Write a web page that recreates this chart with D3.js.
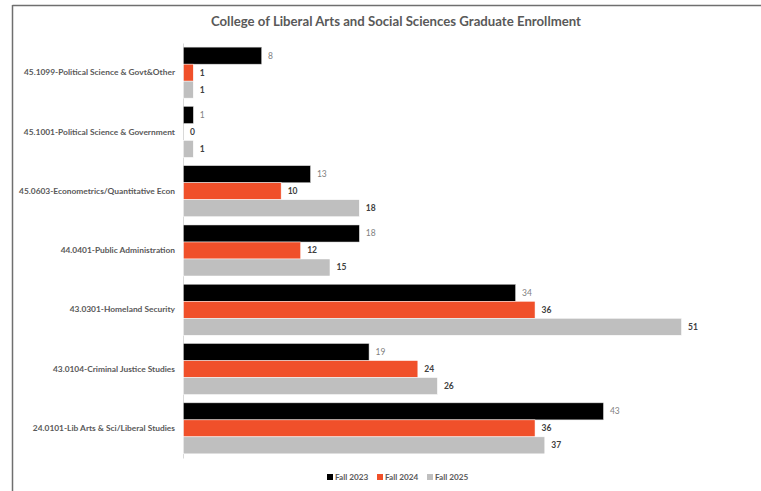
<!DOCTYPE html>
<html>
<head>
<meta charset="utf-8">
<script src="https://cdn.jsdelivr.net/npm/d3@7"></script>
<style>
  html, body { margin: 0; padding: 0; background: #fff; }
  svg { display: block; }
  text { font-family: Lato, "Open Sans", sans-serif; }
</style>
</head>
<body>
<div id="chart"></div>
<script>
const categories = [
  "45.1099-Political Science & Govt&Other",
  "45.1001-Political Science & Government",
  "45.0603-Econometrics/Quantitative Econ",
  "44.0401-Public Administration",
  "43.0301-Homeland Security",
  "43.0104-Criminal Justice Studies",
  "24.0101-Lib Arts & Sci/Liberal Studies"
];
const seriesNames = ["Fall 2023", "Fall 2024", "Fall 2025"];
const fall2023 = [8, 1, 13, 18, 34, 19, 43];
const fall2024 = [1, 0, 10, 12, 36, 24, 36];
const fall2025 = [1, 1, 18, 15, 51, 26, 37];
const seriesColors = ["#000000", "#F0502A", "#BFBFBF"];
const seriesValues = [fall2023, fall2024, fall2025];

const W = 761, H = 491;
const svg = d3.select("#chart").append("svg").attr("width", W).attr("height", H);

// outer frame (top and left borders visible)
svg.append("line").attr("x1", 12.5).attr("x2", W).attr("y1", 5.5).attr("y2", 5.5)
  .attr("stroke", "#6f6f6f").attr("stroke-width", 1.5);
svg.append("line").attr("x1", 12.5).attr("x2", 12.5).attr("y1", 5).attr("y2", H)
  .attr("stroke", "#6f6f6f").attr("stroke-width", 1.5);

// title
svg.append("text").attr("x", 396).attr("y", 26).attr("text-anchor", "middle")
  .attr("font-size", 13.2).attr("font-weight", 700).attr("fill", "#595959")
  .text("College of Liberal Arts and Social Sciences Graduate Enrollment");

const x = d3.scaleLinear().domain([0, 51]).range([183, 681]);
const y = d3.scaleBand().domain(categories).range([43, 458]).paddingInner(0.14).paddingOuter(0.07);
const ySub = d3.scaleBand().domain(seriesNames).range([0, y.bandwidth()]);

// category axis
const yAxis = d3.axisLeft(y).tickSize(0).tickPadding(8);
const gAxis = svg.append("g").attr("transform", `translate(${x(0)},0)`).call(yAxis);
gAxis.select(".domain").attr("stroke", "#d9d9d9").attr("stroke-width", 1);
gAxis.selectAll("text").attr("font-size", 8.4).attr("font-weight", 700).attr("fill", "#595959")
  .attr("font-family", "Lato, 'Open Sans', sans-serif");

// bars
const groups = svg.append("g").selectAll("g").data(categories).join("g")
  .attr("transform", d => `translate(0,${y(d)})`);

seriesNames.forEach((s, si) => {
  groups.append("rect")
    .attr("x", x(0) + 0.5)
    .attr("y", (d, i) => ySub(s))
    .attr("width", (d, i) => Math.max(0, x(seriesValues[si][i]) - x(0)))
    .attr("height", ySub.bandwidth())
    .attr("fill", seriesColors[si])
    .attr("stroke", si === 0 ? "#d0d0d0" : "#ffffff")
    .attr("stroke-width", 0.5);
  groups.append("text")
    .attr("x", (d, i) => x(seriesValues[si][i]) + 7)
    .attr("y", ySub(s) + ySub.bandwidth() / 2)
    .attr("dy", "0.35em")
    .attr("font-size", 8.5)
    .attr("font-weight", si === 0 ? 400 : 700)
    .attr("fill", si === 0 ? "#7f7f7f" : "#404040")
    .text((d, i) => seriesValues[si][i]);
});

// legend
const legendX = [327, 377, 427];
const legend = svg.append("g").selectAll("g").data(seriesNames).join("g")
  .attr("transform", (d, i) => `translate(${legendX[i]},477)`);
legend.append("rect").attr("x", 0).attr("y", -3).attr("width", 6).attr("height", 6)
  .attr("fill", (d, i) => seriesColors[i]);
legend.append("text").attr("x", 8).attr("y", 0).attr("dy", "0.35em")
  .attr("font-size", 8.2).attr("font-weight", 700).attr("fill", "#595959").text(d => d);
</script>
</body>
</html>
